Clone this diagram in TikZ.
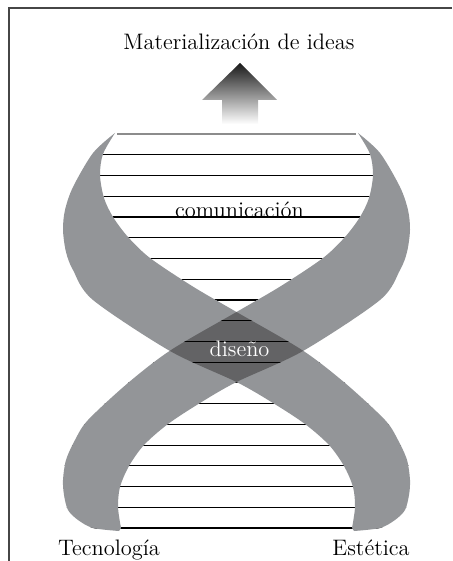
\documentclass[tikz,border=0pt]{standalone}
\usepackage{fontspec}
\usepackage{tikz}
\usetikzlibrary{calc}

\definecolor{bandgray}{RGB}{147,149,152}
\definecolor{crossgray}{RGB}{99,99,101}
\definecolor{framegray}{RGB}{70,70,70}

% the two ribbons, mirror images about x = 236.5
\newcommand{\ribbonA}{plot[smooth] coordinates {(115,133) (103,154) (100,175) (104,198) (113,217) (128,237) (150,258) (192,286) (236.5,312) (302,350) (345,383) (385,420) (398,440) (407,460) (410,480) (409,495) (405,510) (395,520) (380,528) (354,531)}
  -- plot[smooth] coordinates {(352,528) (355,507) (353,487) (344,466) (329,445) (305,424) (273,403) (236.5,382) (170,351) (93,300) (73,270) (66,252) (63,230) (65,210) (73,187) (93,153) (115,133)} -- cycle}
\newcommand{\ribbonB}{plot[smooth] coordinates {(358,133) (370,154) (373,175) (369,198) (360,217) (345,237) (323,258) (281,286) (236.5,312) (171,350) (128,383) (88,420) (75,440) (66,460) (63,480) (64,495) (68,510) (78,520) (93,528) (119,531)}
  -- plot[smooth] coordinates {(121,528) (118,507) (120,487) (129,466) (144,445) (168,424) (200,403) (236.5,382) (303,351) (380,300) (400,270) (407,252) (410,230) (408,210) (400,187) (380,153) (358,133)} -- cycle}
% open space between the ribbons
\newcommand{\ladder}{plot[smooth] coordinates {(115,133) (103,154) (100,175) (104,198) (113,217) (128,237) (150,258) (192,286) (236.5,312) (302,350) (345,383) (385,420) (398,440) (407,460) (410,480) (409,495) (405,510) (395,520) (380,528) (354,531)}
  -- plot[smooth] coordinates {(119,531) (93,528) (78,520) (68,510) (64,495) (63,480) (66,460) (75,440) (88,420) (128,383) (171,350) (236.5,312) (281,286) (323,258) (345,237) (360,217) (369,198) (373,175) (370,154) (358,133)} -- cycle}

\begin{document}
\begin{tikzpicture}[x=0.5pt, y=-0.5pt,
    every node/.style={font=\fontsize{11.2}{13}\selectfont, inner sep=0pt},
    rung/.style={line width=0.6pt, black},
    label/.style={anchor=base}]
  \useasboundingbox (0,0) rectangle (452,561);

  \draw[framegray, line width=1pt] (9,561) -- (9,8) -- (452,8);

  % arrow
  \shade[top color=black!90, bottom color=white]
    (240,63) -- (277,100) -- (258,100) -- (258,124) -- (222,124) -- (222,100) -- (202,100) -- cycle;
  \node[label] (title) at (239,50) {Materialización de ideas};

  % rungs in the open parts
  \begin{scope}
    \clip \ladder;
    \foreach \k in {1,...,19}
      \draw[rung] (50,{134+20.74*\k}) -- (425,{134+20.74*\k});
  \end{scope}

  \fill[bandgray] \ribbonA;
  \fill[bandgray] \ribbonB;

  % overlap of the ribbons
  \begin{scope}
    \clip \ribbonA;
    \clip \ribbonB;
    \fill[crossgray] (150,290) rectangle (325,400);
    \foreach \k in {8,...,13}
      \draw[rung] (150,{134+20.74*\k}) -- (325,{134+20.74*\k});
  \end{scope}

  \draw[black!45, line width=0.7pt] (117,134) -- (356,134);

  \node[label] (comm) at (239.5,217) {comunicación};
  \node[label, white] (dis) at (239.5,356.5) {diseño};
  \node[label] (tec) at (109,555) {Tecnología};
  \node[label] (est) at (371,555) {Estética};
\end{tikzpicture}
\end{document}
